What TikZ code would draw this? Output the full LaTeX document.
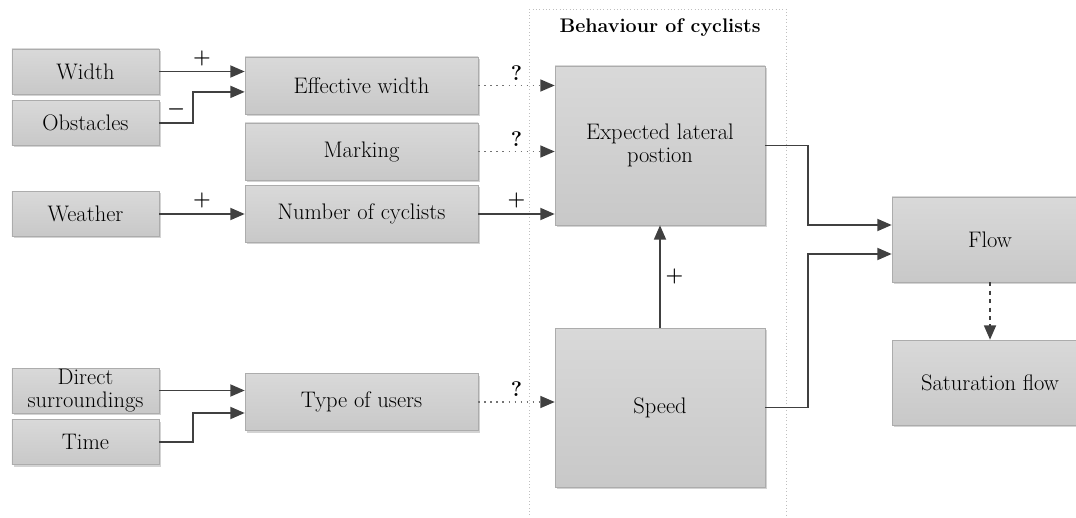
\documentclass[tikz,border=0pt]{standalone}
\usepackage{amsmath}
\usepackage{tikz}
\usetikzlibrary{arrows.meta,shadows}
\tikzstyle{box} = [draw=gray!65, top color=gray!30, bottom color=gray!43, drop shadow={shadow xshift=0.05cm, shadow yshift=-0.05cm, opacity=0.35, fill=gray}, align=center, inner sep=0pt, font=\fontsize{16}{16.5}\selectfont]
\tikzstyle{es} = [draw=black!75, line width=1.3pt, -{Triangle[length=0.36cm,width=0.3cm]}]
\tikzstyle{ds} = [draw=black!55, line width=1.1pt, dash pattern=on 1.1pt off 3.2pt, -{Triangle[length=0.36cm,width=0.3cm,color=black!75]}]
\tikzstyle{dd} = [es, dashed]
\tikzstyle{sgn} = [font=\fontsize{15}{16}\selectfont\boldmath, text=black]

\begin{document}
\begin{tikzpicture}
			\useasboundingbox (0,0) rectangle (26.9,12.925);
			\draw[gray!50, dotted] (13.225,-0.2) rectangle (19.65,12.7);
			\node[font=\fontsize{14}{15}\selectfont\bfseries] (title) at (16.5,12.225) {Behaviour of cyclists};
			% inputs
			\node[box, minimum width=3.675cm, minimum height=1.125cm] (width) at (2.1375,11.1375) {Width};
			\node[box, minimum width=3.675cm, minimum height=1.125cm] (obst) at (2.1375,9.85) {Obstacles};
			\node[box, minimum width=3.675cm, minimum height=1.125cm] (weather) at (2.1375,7.575) {Weather};
			\node[box, minimum width=3.675cm, minimum height=1.125cm] (direct) at (2.1375,3.1625) {Direct\\surroundings};
			\node[box, minimum width=3.675cm, minimum height=1.125cm] (time) at (2.1375,1.875) {Time};
			% middle column
			\node[box, minimum width=5.825cm, minimum height=1.425cm] (eff) at (9.0375,10.7875) {Effective width};
			\node[box, minimum width=5.825cm, minimum height=1.425cm] (marking) at (9.0375,9.1375) {Marking};
			\node[box, minimum width=5.825cm, minimum height=1.425cm] (number) at (9.0375,7.575) {Number of cyclists};
			\node[box, minimum width=5.825cm, minimum height=1.425cm] (type) at (9.0375,2.875) {Type of users};
			% behaviour
			\node[box, minimum width=5.25cm, minimum height=3.975cm] (exp) at (16.5,9.2875) {Expected lateral\\postion};
			\node[box, minimum width=5.25cm, minimum height=3.975cm] (speed) at (16.5,2.7375) {Speed};
			% output
			\node[box, minimum width=4.9cm, minimum height=2.125cm] (flow) at (24.75,6.9375) {Flow};
			\node[box, minimum width=4.9cm, minimum height=2.125cm] (sat) at (24.75,3.3625) {Saturation flow};
			% connectors
			\draw [es] (width.east) -- (width -| eff.west) node[sgn, midway, above] {$+$};
			\draw [es] (obst.east) -- ++(0.85,0) node[sgn, midway, above] {$-$} |- ([yshift=-0.16cm]eff.west);
			\draw [es] (weather.east) -- (weather -| number.west) node[sgn, midway, above] {$+$};
			\draw [es] (direct.east) -- (direct -| type.west);
			\draw [es] (time.east) -- ++(0.85,0) |- ([yshift=-0.275cm]type.west);
			\draw [ds] (eff.east) -- (eff -| exp.west) node[sgn, midway, above] {\textbf{?}};
			\draw [ds] (marking.east) -- (marking -| exp.west) node[sgn, midway, above] {\textbf{?}};
			\draw [es] (number.east) -- (number -| exp.west) node[sgn, midway, above] {$+$};
			\draw [ds] (type.east) -- (type -| speed.west) node[sgn, midway, above] {\textbf{?}};
			\draw [es] (speed.north) -- (exp.south) node[sgn, midway, right] {$+$};
			\draw [es] (exp.east) -- ++(1.075,0) |- ([yshift=0.3625cm]flow.west);
			\draw [es] (speed.east) -- ++(1.075,0) |- ([yshift=-0.3625cm]flow.west);
			\draw [dd] (flow.south) -- (sat.north);
		\end{tikzpicture}
\end{document}
